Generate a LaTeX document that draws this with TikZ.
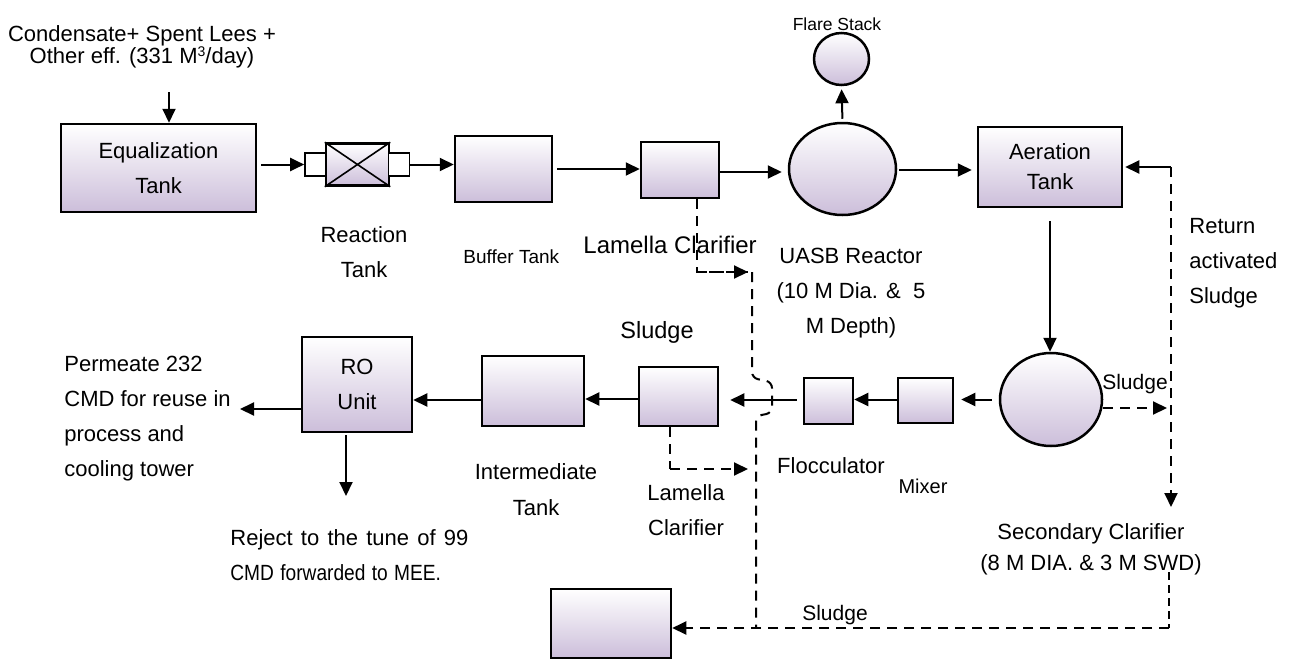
\documentclass[tikz,border=0pt]{standalone}
\usepackage{fontspec}
\usepackage{graphicx}
\setmainfont{Liberation Sans}
\usetikzlibrary{arrows.meta,shapes.geometric}
\definecolor{lav}{RGB}{204,190,218}
\begin{document}
\begin{tikzpicture}[x=0.5pt,y=-0.5pt,
  box/.style={draw, line width=1.25pt, top color=white, bottom color=lav, inner sep=0pt, align=center, font=\fontsize{11}{17.5}\selectfont},
  tank/.style={box, ellipse},
  plainbox/.style={draw, line width=0.8pt, fill=white, inner sep=0pt, minimum width=10.5pt, minimum height=11.5pt},
  arr/.style={line width=1pt, -{Triangle[length=7pt,width=6.5pt]}},
  dsh/.style={line width=1pt, dash pattern=on 5pt off 3.5pt},
  thindsh/.style={line width=0.7pt, dash pattern=on 4pt off 2.5pt},
  lbl/.style={inner sep=0pt, align=center, font=\fontsize{11}{17.5}\selectfont}
]
\useasboundingbox (0,0) rectangle (1295,659);

% ---- process units ----
\node[box, minimum width=97.5pt, minimum height=44pt] (eq) at (158.5,168) {Equalization\\Tank};
\node[plainbox] (rtl) at (315.5,164.5) {};
\node[box, minimum width=31.5pt, minimum height=21pt] (rt) at (357.5,164.5) {};
\node[plainbox] (rtr) at (399,164.5) {};
\draw[line width=0.8pt] (rt.north west) -- (rt.south east) (rt.south west) -- (rt.north east);
\node[box, minimum width=48.5pt, minimum height=33pt] (buf) at (503.5,169) {};
\node[box, minimum width=39pt, minimum height=28pt] (lam1) at (680,170) {};
\node[tank, minimum width=53.5pt, minimum height=46pt] (uasb) at (842.5,169) {};
\node[tank, minimum width=27.5pt, minimum height=26pt] (flare) at (841.5,59) {};
\node[box, minimum width=72pt, minimum height=40pt, font=\fontsize{11}{15}\selectfont] (aer) at (1050,167) {Aeration\\Tank};
\node[tank, minimum width=51pt, minimum height=46.5pt] (sc) at (1051,399.5) {};
\node[box, minimum width=27.5pt, minimum height=22.5pt] (mix) at (925.5,400.5) {};
\node[box, minimum width=24.5pt, minimum height=23pt] (floc) at (828.5,401) {};
\node[box, minimum width=39.5pt, minimum height=29.5pt] (lam2) at (678.5,396.5) {};
\node[box, minimum width=51pt, minimum height=35pt] (inter) at (533,391) {};
\node[box, minimum width=55pt, minimum height=47.5pt] (ro) at (357,384.5) {RO\\Unit};
\node[box, minimum width=60pt, minimum height=34.5pt] (sbox) at (611,623.5) {};

% ---- labels (anchor=base is the last line's baseline) ----
\node[lbl, anchor=base, font=\fontsize{11}{11}\selectfont] (tin) at (142,63) {Condensate+ Spent Lees +\\Other eff. (331 M{\fontsize{7}{7}\selectfont\raisebox{0.45em}{3}}/day)};
\node[lbl, anchor=base] (trt) at (364,277) {Reaction\\Tank};
\node[lbl, anchor=base west, font=\fontsize{9.5}{12}\selectfont] (tbuf) at (463,263) {Buffer Tank};
\node[lbl, anchor=base west, font=\fontsize{12}{14}\selectfont] (tlam1) at (583,253) {Lamella Clarifier};
\node[lbl, anchor=base, font=\fontsize{8.75}{10}\selectfont] (tflare) at (837,30) {Flare Stack};
\node[lbl, anchor=base] (tuasb) at (851,333) {UASB Reactor\\(10 M Dia. \&\ \ 5\\M Depth)};
\node[lbl, anchor=base west, align=left] (tret) at (1189,303) {Return\\activated\\Sludge};
\node[lbl, anchor=base, font=\fontsize{11.75}{14}\selectfont] (tsl1) at (657,338) {Sludge};
\node[lbl, anchor=base, font=\fontsize{10.5}{12}\selectfont] (tsl2) at (1135,389) {Sludge};
\node[lbl, anchor=base, font=\fontsize{10.5}{12}\selectfont] (tsl3) at (835,620) {Sludge};
\node[lbl, anchor=base] (tfloc) at (831,473) {Flocculator};
\node[lbl, anchor=base, font=\fontsize{10}{12}\selectfont] (tmix) at (923,493) {Mixer};
\node[lbl, anchor=base, font=\fontsize{11}{18}\selectfont] (tint) at (536,515) {Intermediate\\Tank};
\node[lbl, anchor=base] (tlam2) at (686,535) {Lamella\\Clarifier};
\node[lbl, anchor=base, font=\fontsize{11}{15.5}\selectfont] (tsc) at (1091,570) {Secondary Clarifier\\(8 M DIA. \& 3 M SWD)};
\node[lbl, anchor=base west, align=left] (tperm) at (64,476) {Permeate 232\\CMD for reuse in\\process and\\cooling tower};
\node[lbl, anchor=base west, align=left, text width=119pt] (trej) at (230,545) {Reject\hfill to\hfill the\hfill tune\hfill of\hfill 99\\\scalebox{0.87}[1]{CMD forwarded to MEE.}};

% ---- free ends ----
\coordinate (in) at (169,92);
\coordinate (perm) at (240,409);
\coordinate (rej) at (346,496);
\coordinate (d1) at (697,272);
\coordinate (d1e) at (748,272);
\coordinate (d2) at (670,469);
\coordinate (d2e) at (748,469);
\coordinate (v1) at (752,272);
\coordinate (v2) at (752,378);
\coordinate (v3) at (772,382);
\coordinate (v4) at (772,413);
\coordinate (v5) at (756,416);
\coordinate (v6) at (756,628);
\coordinate (rs) at (1167,408);
\coordinate (rtop) at (1171,167);
\coordinate (rbot) at (1171,507);
\coordinate (b1) at (1169,572);
\coordinate (b2) at (1169,628);

% ---- solid connectors ----
\draw[arr] (in) -- (in |- eq.north);
\draw[arr, shorten <=2pt] (eq.east |- rtl.west) -- (rtl.west);
\draw[arr] (rtr.east) -- (rtr.east -| buf.west);
\draw[arr, shorten <=2pt] (buf.east) -- (buf.east -| lam1.west);
\draw[arr, shorten >=3pt] ([yshift=-1pt]lam1.east) -- ([yshift=-1pt]lam1.east -| uasb.west);
\draw[arr, shorten <=1.5pt, shorten >=1.5pt] (uasb.north) -- (flare.south);
\draw[arr, shorten <=1pt, shorten >=2.5pt] ([yshift=-0.5pt]uasb.east) -- ([yshift=-0.5pt]uasb.east -| aer.west);
\draw[arr, shorten <=6.5pt] (aer.south) -- (aer.south |- sc.north);
\draw[arr, shorten <=3.5pt, shorten >=3.5pt] (sc.west) -- (sc.west -| mix.east);
\draw[arr] ([yshift=0.5pt]mix.west) -- ([yshift=0.5pt]mix.west -| floc.east);
\draw[arr, shorten <=3pt, shorten >=5.5pt] ([yshift=0.5pt]floc.west) -- ([yshift=0.5pt]floc.west -| lam2.east);
\draw[arr] ([yshift=-1.25pt]lam2.west) -- ([yshift=-1.25pt]lam2.west -| inter.east);
\draw[arr] ([yshift=-4.5pt]inter.west) -- ([yshift=-4.5pt]inter.west -| ro.east);
\draw[arr] (ro.west |- perm) -- (perm);
\draw[arr, shorten <=1pt] (ro.south -| rej) -- (rej);
\draw[arr, shorten >=1pt] (rtop) -- (rtop -| aer.east);

% ---- dashed connectors ----
\draw[dsh] (lam1.south -| d1) -- (d1) -- (d1e);
\draw[arr, dsh] (d1) -- (d1e);
\draw[dsh] (lam2.south -| d2) -- (d2);
\draw[arr, dsh] (d2) -- (d2e);
\draw[dsh, rounded corners=3pt] (v1) -- (v2) -- (v3) -- (v4) -- (v5) -- (v6);
\draw[arr, dsh] ([yshift=-4.25pt]sc.east) -- (rs);
\draw[arr, dsh] (rtop) -- (rbot);
\draw[thindsh] (b1) -- (b2);
\draw[arr, dsh] (b2) -- (b2 -| sbox.east);
\end{tikzpicture}
\end{document}
